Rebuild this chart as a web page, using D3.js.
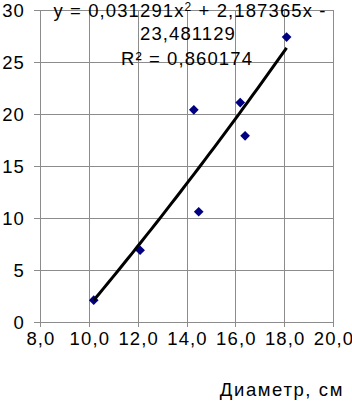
<!DOCTYPE html>
<html>
<head>
<meta charset="utf-8">
<script src="https://cdn.jsdelivr.net/npm/d3@7"></script>
<style>
  body { margin: 0; background: #fff; }
  svg { display: block; }
  text { font-family: "Liberation Sans", Arial, sans-serif; fill: #000; font-size: 18.5px; letter-spacing: 1.1px; }
</style>
</head>
<body>
<svg width="352" height="401"></svg>
<script>
// **** Data ****
var diameters = [10.2, 12.1, 14.3, 14.5, 16.2, 16.4, 18.1];
var values    = [2.1, 6.9, 20.4, 10.6, 21.1, 17.9, 27.4];

// trend line coefficients, as printed on the chart
var trendCoef = [0.031291, 2.187365, -23.481129];
var rSquared = "0,860174";

var xTicks = [8, 10, 12, 14, 16, 18, 20];
var yTicks = [0, 5, 10, 15, 20, 25, 30];

// **** Scales ****
var xScale = d3.scaleLinear().domain([8, 20]).range([40, 333]);
var yScale = d3.scaleLinear().domain([0, 30]).range([322, 10]);

var svg = d3.select('svg');
var grey = '#8c8c8c';

// grid lines
svg.append('g').selectAll('line.v')
    .data(xTicks)
    .enter().append('line')
    .attr('x1', function(d) { return Math.round(xScale(d)) + 0.5; })
    .attr('x2', function(d) { return Math.round(xScale(d)) + 0.5; })
    .attr('y1', yScale(30)).attr('y2', yScale(0) + 5)
    .attr('stroke', grey);

svg.append('g').selectAll('line.h')
    .data(yTicks)
    .enter().append('line')
    .attr('x1', xScale(8) - 6).attr('x2', xScale(20))
    .attr('y1', function(d) { return Math.round(yScale(d)) + 0.5; })
    .attr('y2', function(d) { return Math.round(yScale(d)) + 0.5; })
    .attr('stroke', grey);

// tick labels
var fmt = function(d) { return d.toFixed(1).replace('.', ','); };

svg.append('g').selectAll('text')
    .data(xTicks)
    .enter().append('text')
    .attr('x', function(d) { return xScale(d) + 1; })
    .attr('y', 345)
    .attr('text-anchor', 'middle')
    .text(fmt);

svg.append('g').selectAll('text')
    .data(yTicks)
    .enter().append('text')
    .attr('x', 25)
    .attr('y', function(d) { return yScale(d) + 6.5; })
    .attr('text-anchor', 'end')
    .text(function(d) { return d; });

// axis title
svg.append('text')
    .attr('x', 344).attr('y', 396)
    .attr('text-anchor', 'end')
    .style('letter-spacing', '1.6px')
    .text('Диаметр, см');

// **** Trend line (from printed polynomial, over data range) ****
var xMin = d3.min(diameters), xMax = d3.max(diameters);
var trendXs = d3.range(0, 41).map(function(i) { return xMin + (xMax - xMin) * i / 40; });
var line = d3.line()
    .x(function(d) { return xScale(d); })
    .y(function(d) { return yScale(trendCoef[0] * d * d + trendCoef[1] * d + trendCoef[2]); });

// **** Points ****
var pts = diameters.map(function(d, i) { return { x: d, y: values[i] }; });
svg.append('g').selectAll('path')
    .data(pts)
    .enter().append('path')
    .attr('d', d3.symbol().type(d3.symbolDiamond2).size(60))
    .attr('transform', function(d) { return 'translate(' + xScale(d.x) + ',' + yScale(d.y) + ')'; })
    .attr('fill', '#000080');

svg.append('path')
    .datum(trendXs)
    .attr('d', line)
    .attr('fill', 'none')
    .attr('stroke', '#000')
    .attr('stroke-width', 3);

// **** Equation label ****
var eq = svg.append('text').attr('text-anchor', 'middle');
eq.append('tspan').attr('x', 190).attr('y', 17).html('y = 0,031291x<tspan dy="-6" font-size="12">2</tspan><tspan dy="6"> + 2,187365x -</tspan>');
svg.append('text').attr('text-anchor', 'middle')
    .attr('x', 188).attr('y', 40).text('23,481129');
svg.append('text').attr('text-anchor', 'middle')
    .attr('x', 187).attr('y', 65).text('R² = ' + rSquared);
</script>
</body>
</html>
